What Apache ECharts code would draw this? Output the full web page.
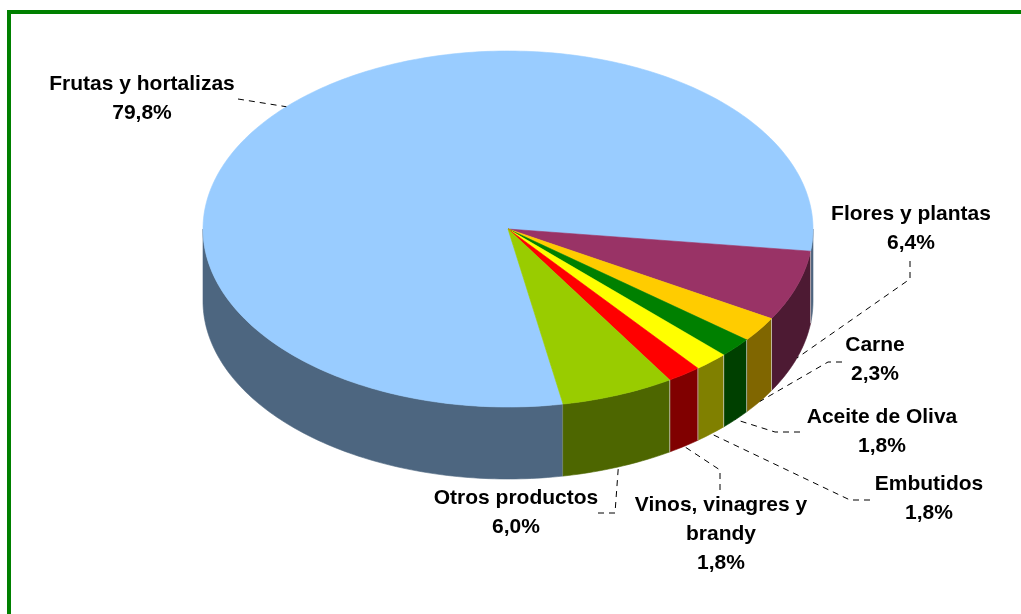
<!DOCTYPE html>
<html>
<head>
<meta charset="utf-8">
<script src="https://cdn.jsdelivr.net/npm/echarts@6/dist/echarts.min.js"></script>
<style>
html, body { margin: 0; padding: 0; background: #fff; }
#chart { width: 1021px; height: 614px; }
</style>
</head>
<body>
<div id="chart"></div>
<script>
// datos (% del total)
var categories = ['Frutas y hortalizas', 'Flores y plantas', 'Carne', 'Aceite de Oliva', 'Embutidos', 'Vinos, vinagres y brandy', 'Otros productos'];
var values = [79.8, 6.4, 2.3, 1.8, 1.8, 1.8, 6.0];
var topColors = ['#99CCFF', '#993366', '#FFCC00', '#008000', '#FFFF00', '#FF0000', '#99CC00'];
var sideColors = ['#4D6680', '#4D1A33', '#806600', '#004000', '#808000', '#800000', '#4D6600'];

// layout of the pseudo 3D pie
var pie = { cx: 508, cy: 229, rx: 305, ry: 178, depth: 72, startAngle: 79.6 };
var labelNames = ['Frutas y hortalizas', 'Flores y plantas', 'Carne', 'Aceite de Oliva', 'Embutidos', 'Vinos, vinagres y\nbrandy', 'Otros productos'];
var labelPos = [[142, 99], [911, 229], [875, 360], [882, 432], [929, 499], [721, 534], [516, 513]];
// start of each leader line (label side), the slice end is computed
var leaderStart = [
    [[238, 99]],
    [[910, 261], [910, 279]],
    [[842, 362], [828, 362]],
    [[800, 432], [775, 432]],
    [[870, 500], [850, 500]],
    [[720, 490], [720, 470]],
    [[598, 513], [615, 513]]
];

var total = values.reduce(function (a, b) { return a + b; }, 0);
var angles = [];
var acc = pie.startAngle;
values.forEach(function (v) {
    var a0 = acc;
    acc += v / total * 360;
    angles.push([a0, acc]);
});

function pt(a, dy) {
    var r = a * Math.PI / 180;
    return [pie.cx + pie.rx * Math.cos(r), pie.cy + pie.ry * Math.sin(r) + dy];
}

function arc(s, e, dy) {
    var n = Math.max(2, Math.ceil(Math.abs(e - s)));
    var pts = [];
    for (var k = 0; k <= n; k++) {
        pts.push(pt(s + (e - s) * k / n, dy));
    }
    return pts;
}

function fmt(v) {
    return v.toFixed(1).replace('.', ',') + '%';
}

function renderItem(params, api) {
    var i = params.dataIndex;
    var a0 = angles[i][0], a1 = angles[i][1];
    var children = [];

    // side faces (only the front half is visible)
    [[0, 180], [360, 540]].forEach(function (r) {
        var s = Math.max(a0, r[0]), e = Math.min(a1, r[1]);
        if (e > s) {
            var pts = arc(s, e, 0).concat(arc(e, s, pie.depth));
            children.push({
                type: 'polygon',
                shape: { points: pts },
                style: { fill: sideColors[i], stroke: sideColors[i], lineWidth: 0.6 }
            });
        }
    });

    // top face
    children.push({
        type: 'polygon',
        shape: { points: [[pie.cx, pie.cy]].concat(arc(a0, a1, 0)) },
        style: { fill: topColors[i], stroke: topColors[i], lineWidth: 0.6 }
    });

    // edge between side faces
    var b = a0 % 360;
    if (b > 0 && b < 180) {
        children.push({
            type: 'line',
            shape: { x1: pt(b, 0)[0], y1: pt(b, 0)[1], x2: pt(b, pie.depth)[0], y2: pt(b, pie.depth)[1] },
            style: { stroke: 'rgba(220,220,220,0.7)', lineWidth: 1 }
        });
    }

    // leader line
    var m = ((a0 + a1) / 2) % 360;
    var end = Math.sin(m * Math.PI / 180) > 0 ? pt(m, pie.depth) : pt(m, 0);
    children.push({
        type: 'polyline',
        shape: { points: leaderStart[i].concat([end]) },
        style: { fill: null, stroke: '#000', lineWidth: 1, lineDash: [6, 5] }
    });

    // label
    children.push({
        type: 'text',
        x: labelPos[i][0],
        y: labelPos[i][1],
        style: {
            text: labelNames[i] + '\n' + fmt(api.value(0)),
            fill: '#000',
            font: 'bold 21px "Liberation Sans", Arial, sans-serif',
            lineHeight: 29,
            align: 'center',
            verticalAlign: 'middle'
        }
    });

    return { type: 'group', children: children };
}

var myChart = echarts.init(document.getElementById('chart'));
var option = {
    animation: false,
    backgroundColor: '#fff',
    graphic: [{
        type: 'rect',
        silent: true,
        shape: { x: 9, y: 12, width: 1100, height: 700 },
        style: { fill: null, stroke: '#008000', lineWidth: 4 }
    }],
    series: [{
        type: 'custom',
        coordinateSystem: 'none',
        data: values.map(function (v, i) { return { name: categories[i], value: [v] }; }),
        renderItem: renderItem
    }]
};
myChart.setOption(option);
</script>
</body>
</html>
